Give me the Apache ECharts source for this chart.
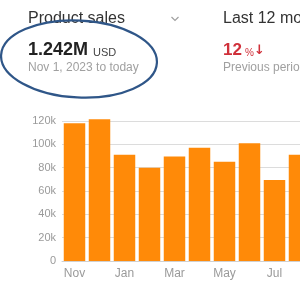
<!DOCTYPE html>
<html>
<head>
<meta charset="utf-8">
<script src="https://cdn.jsdelivr.net/npm/echarts@6/dist/echarts.min.js"></script>
<style>
html,body{margin:0;padding:0;background:#fff;}
#main{width:300px;height:300px;}
</style>
</head>
<body>
<div id="main"></div>
<script>
var months = ['Nov','Dec','Jan','Feb','Mar','Apr','May','Jun','Jul','Aug','Sep','Oct'];
var sales = [118000,121500,91000,80000,89500,97000,85000,101000,69500,91000,95000,88000];
var yTicks = [0,20000,40000,60000,80000,100000,120000];

var chart = echarts.init(document.getElementById('main'), null, {renderer:'canvas'});
var font = '"Liberation Sans", Arial, sans-serif';
chart.setOption({
  backgroundColor:'#fff',
  animation:false,
  grid:{left:62, top:121, height:140, width:300, outerBoundsMode:'none', containLabel:false},
  xAxis:{
    type:'category',
    data:months,
    axisLine:{show:true, lineStyle:{color:'#d0d0d0', width:1}},
    axisTick:{show:false},
    axisLabel:{interval:1, color:'#9a9a9a', fontSize:12, fontFamily:font, margin:7}
  },
  yAxis:{
    type:'value',
    min:0, max:120000, interval:20000,
    axisLine:{show:false},
    axisTick:{show:false},
    splitLine:{lineStyle:{color:'#dcdcdc', width:1}},
    axisLabel:{color:'#9a9a9a', fontSize:11, fontFamily:font, margin:6,
      formatter:function(v){ return v===0 ? '0' : (v/1000)+'k'; }}
  },
  series:[{
    type:'bar',
    data:sales,
    clip:false,
    barCategoryGap:'14%',
    itemStyle:{color:'#ff8a08'}
  }],
  graphic:[
    {type:'text', left:28, top:11, style:{text:'Product sales', fill:'#333', font:'16px '+font}},
    {type:'polyline', shape:{points:[[171.5,17],[175,20.5],[178.5,17]]}, style:{stroke:'#a0a0a0', lineWidth:1.2, fill:null}},
    {type:'text', left:223, top:11, style:{text:'Last 12 months', fill:'#333', font:'16px '+font}},
    {type:'text', left:28, top:41, style:{text:'1.242M', fill:'#222', font:'bold 18px '+font}},
    {type:'text', left:93, top:47, style:{text:'USD', fill:'#444', font:'11px '+font}},
    {type:'text', left:28, top:62, style:{text:'Nov 1, 2023 to today', fill:'#a0a0a0', font:'12px '+font}},
    {type:'text', left:223, top:42, style:{text:'12', fill:'#d0303a', font:'bold 17px '+font}},
    {type:'text', left:245, top:48, style:{text:'%', fill:'#d0303a', font:'10px '+font}},
    {type:'text', left:254, top:44, style:{text:'↓', fill:'#d0303a', font:'bold 13px "DejaVu Sans", sans-serif'}},
    {type:'text', left:223, top:62, style:{text:'Previous period', fill:'#a0a0a0', font:'12px '+font}},
    {type:'ellipse', z:100, x:79, y:59, rotation:-0.05, shape:{cx:0, cy:0, rx:78, ry:38.5}, style:{stroke:'#2f5688', lineWidth:2.2, fill:null}}
  ]
});
</script>
</body>
</html>
